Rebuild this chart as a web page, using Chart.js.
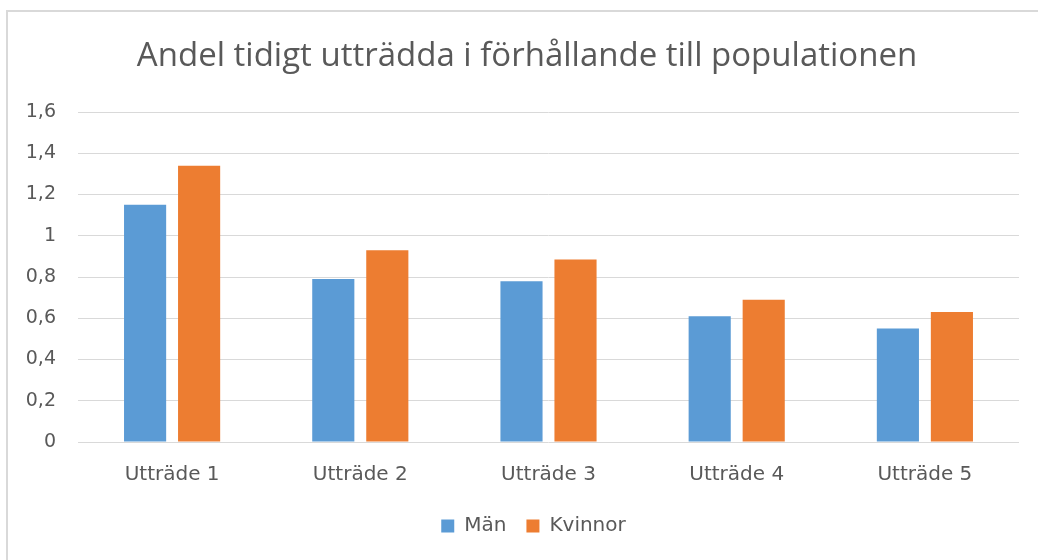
<!DOCTYPE html>
<html>
<head>
<meta charset="utf-8">
<script src="https://cdn.jsdelivr.net/npm/chart.js@4"></script>
<style>
  html, body { margin: 0; padding: 0; background: #fff; }
  #wrap { position: relative; width: 1038px; height: 560px; }
  #frame { position: absolute; left: 6px; top: 10px; right: 0; bottom: 0;
           border-top: 2px solid #d9d9d9; border-left: 2px solid #d9d9d9; pointer-events: none; }
</style>
</head>
<body>
<div id="wrap">
  <canvas id="chart" width="1038" height="560"></canvas>
  <div id="frame"></div>
</div>
<script>
// data
const categories = ["Utträde 1", "Utträde 2", "Utträde 3", "Utträde 4", "Utträde 5"];
const man = [1.15, 0.79, 0.78, 0.61, 0.55];
const kvinnor = [1.34, 0.93, 0.885, 0.69, 0.63];
const yTicks = [0, 0.2, 0.4, 0.6, 0.8, 1, 1.2, 1.4, 1.6];
const chartTitle = "Andel tidigt utträdda i förhållande till populationen";

const textColor = "#595959";
const gridColor = "#d9d9d9";
const axisFont = { family: "DejaVu Sans", size: 19 };
const labelFont = { family: "DejaVu Sans", size: 20 };

// title and legend are centred on the frame, not on the plot
const framePlugin = {
  id: "frameCentre",
  afterLayout(chart) {
    chart.legend.left += 24;
    chart.legend.right += 24;
  },
  afterDraw(chart) {
    const c = chart.ctx;
    c.save();
    c.fillStyle = textColor;
    c.font = "33px 'Open Sans'";
    c.textAlign = "center";
    c.textBaseline = "middle";
    c.fillText(chartTitle, 527, 57);
    c.restore();
  }
};

const ctx = document.getElementById("chart").getContext("2d");
new Chart(ctx, {
  type: "bar",
  data: {
    labels: categories,
    datasets: [
      { label: "Män", data: man, backgroundColor: "#5b9bd5", categoryPercentage: 0.574, barPercentage: 0.78 },
      { label: "Kvinnor", data: kvinnor, backgroundColor: "#ed7d31", categoryPercentage: 0.574, barPercentage: 0.78 }
    ]
  },
  options: {
    responsive: false,
    animation: false,
    layout: { padding: { left: 0, right: 19, top: 112, bottom: 14 } },
    scales: {
      y: {
        min: 0,
        max: 1.6,
        afterBuildTicks: axis => { axis.ticks = yTicks.map(v => ({ value: v })); },
        afterFit: axis => { axis.width = 78; },
        border: { display: false },
        grid: { color: gridColor, lineWidth: 1, drawTicks: false },
        ticks: {
          padding: 22,
          color: textColor,
          font: axisFont,
          callback: v => String(v).replace(".", ",")
        }
      },
      x: {
        afterFit: axis => { axis.height = 54; },
        border: { display: false },
        grid: { display: false, drawTicks: false },
        ticks: {
          padding: 21,
          color: textColor,
          font: labelFont
        }
      }
    },
    plugins: {
      title: { display: false },
      legend: {
        position: "bottom",
        labels: {
          boxWidth: 13,
          boxHeight: 13,
          padding: 20,
          color: textColor,
          font: labelFont
        }
      },
      tooltip: { enabled: false }
    }
  },
  plugins: [framePlugin]
});
</script>
</body>
</html>
